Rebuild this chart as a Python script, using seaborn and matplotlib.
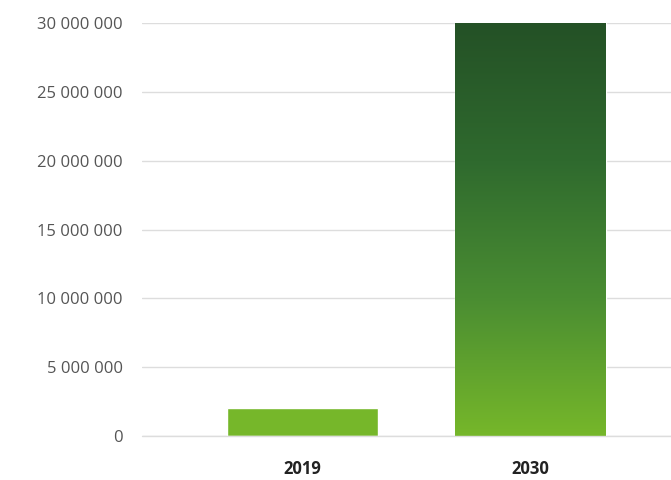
import numpy as np
import pandas as pd
import seaborn as sns
import matplotlib.pyplot as plt
from matplotlib.colors import LinearSegmentedColormap

# Data
years = ['2019', '2030']
values = [2000000, 30000000]
y_ticks = [0, 5000000, 10000000, 15000000, 20000000, 25000000, 30000000]

LIGHT_GREEN = '#76b72a'
DARK_GREEN = '#245126'


def fmt_space(v):
    return '{:,}'.format(int(v)).replace(',', ' ')


sns.set_theme(style='white')
plt.rcParams['font.family'] = ['Open Sans', 'DejaVu Sans']

df = pd.DataFrame({'year': years, 'value': values})

fig = plt.figure(figsize=(6.71, 4.80), dpi=100, facecolor='white')
ax = fig.add_axes([0.2116, 0.0917, 0.7884, 0.8603])
ax.set_facecolor('white')

sns.barplot(data=df, x='year', y='value', color=LIGHT_GREEN, width=0.66,
            saturation=1, ax=ax, zorder=3)

# Gradient fill on the 2030 bar (dark at top, light at bottom)
cmap = LinearSegmentedColormap.from_list('grn', [LIGHT_GREEN, '#4a8d32', '#2f6a2e', DARK_GREEN])
bar = ax.patches[1]
bb = bar.get_bbox()
grad = np.linspace(0, 1, 256).reshape(-1, 1)
im = ax.imshow(grad, cmap=cmap, origin='lower', aspect='auto',
               extent=[bb.x0, bb.x1, bb.y0, bb.y1], zorder=4)
im.set_clip_path(bar)

ax.set_xlim(-0.704, 1.616)
ax.set_ylim(0, 30000000)
ax.set_yticks(y_ticks)
ax.set_yticklabels([fmt_space(t) for t in y_ticks])

ax.grid(axis='y', color='#dddddd', linewidth=1, zorder=0)
ax.axhline(0, color='#dddddd', linewidth=1, zorder=5, clip_on=False)
ax.set_axisbelow(True)
for s in ax.spines.values():
    s.set_visible(False)

ax.tick_params(axis='y', length=0, pad=14, labelsize=12, labelcolor='#555555')
ax.tick_params(axis='x', length=0, pad=17, labelsize=12, labelcolor='#222222')
ax.set_xticks(range(len(years)))
ax.set_xticklabels(years, fontweight='bold')

ax.set_xlabel('')
ax.set_ylabel('')

fig.savefig('out.png', dpi=100, facecolor='white')
